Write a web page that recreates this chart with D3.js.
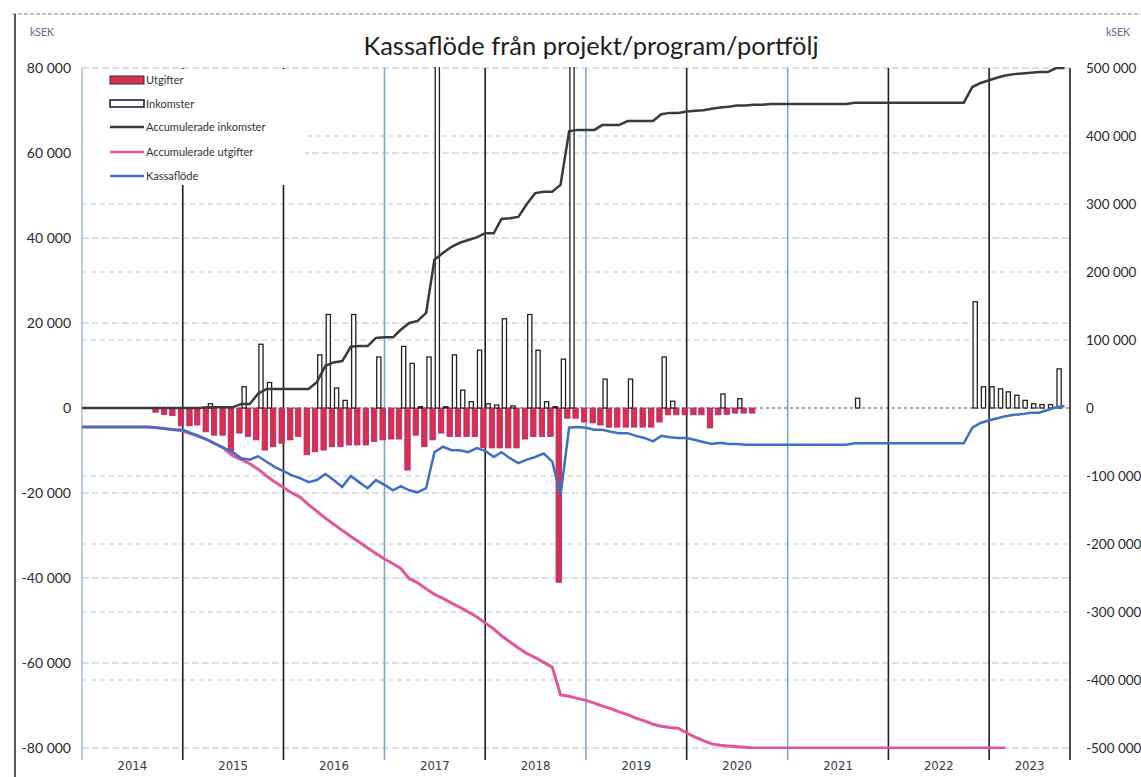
<!DOCTYPE html>
<html><head><meta charset="utf-8">
<script src="https://cdn.jsdelivr.net/npm/d3@7"></script>
<style>body{margin:0;background:#fff}svg{display:block}</style>
</head><body><svg id="c" width="1141" height="777"></svg>
<script>
// ---------- DATA (kSEK) ----------
const startYear = 2014;
const years = ["2014","2015","2016","2017","2018","2019","2020","2021","2022","2023"];
const utgifter = [
  0,0,0,0,0,0,0,0,0,-1000,-1500,-1800,
  -4200,-4200,-4000,-5600,-6400,-6400,-10300,-5900,-6700,-7500,-9900,-9100,
  -8300,-7500,-6700,-11000,-10300,-9900,-9100,-9100,-8700,-8700,-8700,-7900,
  -7500,-7300,-7300,-14600,-6400,-9100,-7500,-5900,-6700,-6700,-6700,-6700,
  -9300,-9400,-9400,-9400,-9400,-7300,-6700,-6700,-6700,-41000,-2400,-2400,
  -3300,-3500,-4000,-4500,-4500,-4500,-4500,-4500,-4500,-3300,-1600,-1600,
  -1600,-1600,-1600,-4700,-1600,-1500,-1200,-1200,-1200,0,0,0,
  0,0,0,0,0,0,0,0,0,0,0,0,
  0,0,0,0,0,0,0,0,0,0,0,0,
  0,0,0,0,0,0,0,0,0,0
];
const inkomster = [
  0,0,0,0,0,0,0,0,0,0,0,0,
  0,0,0,1000,0,0,0,5000,0,15000,6000,0,
  0,0,0,0,12500,22000,4700,1800,22000,0,0,12000,
  0,0,14500,10500,300,12000,85000,300,12500,4200,1500,13600,
  1000,700,21000,500,0,22000,13600,1500,300,11500,82000,0,
  0,0,6800,0,0,6800,0,0,0,12000,1600,0,
  0,0,0,0,3300,0,2200,0,0,0,0,0,
  0,0,0,0,0,0,0,0,2300,0,0,0,
  0,0,0,0,0,0,0,0,0,0,25000,5000,
  5000,4500,3800,3000,1800,1000,800,800,9200,0
];
const accInkomster = [
  0,0,0,0,0,0,0,0,0,0,0,0,
  0,0,0,1000,1000,1000,1000,6000,6000,21000,28000,28000,
  28000,28000,28000,28000,38000,62000,67000,69000,90000,91000,91000,103000,
  104000,104000,115000,125000,128000,140000,218000,228000,237000,243000,247000,251000,
  257000,257000,278000,279000,281000,300000,316000,318000,318000,328000,407000,409000,
  409000,409000,416000,416000,416000,422000,422000,422000,422000,432000,434000,434000,
  436000,437000,438000,440000,442000,443000,445000,445000,446000,446000,447000,447000,
  447000,447000,447000,447000,447000,447000,447000,447000,449000,449000,449000,449000,
  449000,449000,449000,449000,449000,449000,449000,449000,449000,449000,472000,478000,
  482000,486000,489000,491000,492000,493000,494000,494000,500000,500000
];
const accUtgifter = [
  -28000,-28000,-28000,-28000,-28000,-28000,-28000,-28000,-28000,-29000,-30000,-32000,
  -34000,-38000,-42000,-47000,-53000,-60000,-70000,-76000,-82000,-90000,-100000,-109000,
  -117000,-125000,-131000,-142000,-152000,-162000,-171000,-180000,-189000,-197000,-206000,-214000,
  -222000,-229000,-236000,-251000,-257000,-266000,-274000,-280000,-287000,-293000,-300000,-307000,
  -316000,-325000,-335000,-344000,-353000,-361000,-367000,-374000,-381000,-422000,-424000,-427000,
  -430000,-434000,-438000,-442000,-447000,-451000,-456000,-460000,-465000,-468000,-470000,-471000,
  -478000,-484000,-489000,-494000,-496000,-497000,-498000,-499000,-500000,-500000,-500000,-500000,
  -500000,-500000,-500000,-500000,-500000,-500000,-500000,-500000,-500000,-500000,-500000,-500000,
  -500000,-500000,-500000,-500000,-500000,-500000,-500000,-500000,-500000,-500000,-500000,-500000,
  -500000,-500000,-500000,null,null,null,null,null,null,null
];
const kassaflode = [
  -28000,-28000,-28000,-28000,-28000,-28000,-28000,-28000,-28000,-29000,-31000,-32000,
  -32000,-37000,-41000,-47000,-53000,-59000,-65000,-74000,-76000,-71000,-79000,-87000,
  -93000,-99000,-103000,-109000,-106000,-97000,-106000,-116000,-100000,-109000,-118000,-106000,
  -113000,-121000,-115000,-121000,-124000,-118000,-65000,-57000,-62000,-62000,-65000,-59000,
  -63000,-72000,-65000,-74000,-81000,-76000,-72000,-67000,-79000,-128000,-29000,-28000,
  -29000,-32000,-32000,-35000,-37000,-37000,-41000,-44000,-49000,-41000,-43000,-44000,
  -44000,-47000,-50000,-53000,-51000,-53000,-53000,-54000,-54000,-54000,-54000,-54000,
  -54000,-54000,-54000,-54000,-54000,-54000,-54000,-54000,-52000,-52000,-52000,-52000,
  -52000,-52000,-52000,-52000,-52000,-52000,-52000,-52000,-52000,-52000,-29000,-22000,
  -18000,-15000,-12000,-10000,-9000,-7000,-7000,-3000,1000,3000
];
const leftTicks = [80000,60000,40000,20000,0,-20000,-40000,-60000,-80000];
const rightTicks = [500000,400000,300000,200000,100000,0,-100000,-200000,-300000,-400000,-500000];
const legendLabels = ["Utgifter","Inkomster","Accumulerade inkomster","Accumulerade utgifter","Kassaflöde"];
const title = "Kassaflöde från projekt/program/portfölj";
const unitLabel = "kSEK";

// ---------- SETUP ----------
const svg = d3.select("#c");
const L = 82, R = 1070, T = 68, B = 748;
const months = utgifter.map((_, i) => d3.timeMonth.offset(new Date(startYear, 0, 1), i));
const x = d3.scaleTime().domain([new Date(2014,0,1), new Date(2023,9,21)]).range([L, R]);
const yL = d3.scaleLinear().domain([-80000, 80000]).range([B, T]);
const yR = d3.scaleLinear().domain([-500000, 500000]).range([B, T]);
const loc = d3.formatLocale({decimal:",", thousands:"\u00a0", grouping:[3], currency:["",""], minus:"-"});
const fmt = loc.format(",d");

const colUtg = "#d9304f", colUtgStroke = "#b2276f";
const colAccInk = "#3a3a3a", colAccUtg = "#e2559b", colKassa = "#3d6fc6";
const font = "Lato, 'Open Sans', sans-serif";

// frame
svg.append("line").attr("x1",12).attr("x2",1141).attr("y1",14).attr("y2",14)
  .attr("stroke","#888").attr("stroke-width",1).attr("stroke-dasharray","4,2");
svg.append("line").attr("x1",15).attr("x2",15).attr("y1",14).attr("y2",777)
  .attr("stroke","#222").attr("stroke-width",1.5);

svg.append("defs").append("clipPath").attr("id","plot")
  .append("rect").attr("x",L).attr("y",T-1).attr("width",R-L).attr("height",B-T+2);

// horizontal gridlines (left & right axes)
const grid = svg.append("g");
grid.selectAll(".gl").data(leftTicks).join("line")
  .attr("x1",L).attr("x2",R).attr("y1",d=>yL(d)).attr("y2",d=>yL(d))
  .attr("stroke", d=> d===0 ? "#555" : "#b3c0d2").attr("stroke-width",1)
  .attr("stroke-dasharray", d=> d===0 ? "3,3" : "7,3");
grid.selectAll(".gr").data(rightTicks.filter(d=>d!==0 && Math.abs(d)!==500000)).join("line")
  .attr("x1",L).attr("x2",R).attr("y1",d=>yR(d)).attr("y2",d=>yR(d))
  .attr("stroke","#bcc7d6").attr("stroke-width",1).attr("stroke-dasharray","5,4");

// vertical year lines
const yearStarts = years.slice(1).map(y => new Date(+y,0,1));
const vColors = ["#1f1f1f","#1f1f1f","#7fa3d6","#1f1f1f","#7fa3d6","#1f1f1f","#7fa3d6","#1f1f1f","#1f1f1f"];
grid.selectAll(".v").data(yearStarts).join("line")
  .attr("x1",d=>x(d)).attr("x2",d=>x(d)).attr("y1",T).attr("y2",B+12)
  .attr("stroke",(d,i)=>vColors[i]).attr("stroke-width",1.6);
grid.append("line").attr("x1",L).attr("x2",L).attr("y1",T).attr("y2",B+12)
  .attr("stroke","#8fa8cc").attr("stroke-width",1.2);
grid.append("line").attr("x1",R).attr("x2",R).attr("y1",T).attr("y2",B+12)
  .attr("stroke","#1f1f1f").attr("stroke-width",1.6);

// bars
const plot = svg.append("g").attr("clip-path","url(#plot)");
plot.selectAll(".u").data(utgifter.map((v,i)=>({v,d:months[i]})).filter(o=>o.v!==0)).join("rect")
  .attr("x",o=>x(o.d)-4.5).attr("width",5.4)
  .attr("y",o=>yL(0)).attr("height",o=>yL(o.v)-yL(0))
  .attr("fill",colUtg).attr("stroke",colUtgStroke).attr("stroke-width",0.8);
plot.selectAll(".i").data(inkomster.map((v,i)=>({v,d:months[i]})).filter(o=>o.v!==0)).join("rect")
  .attr("x",o=>x(o.d)+0.8).attr("width",4.2)
  .attr("y",o=>yL(o.v)).attr("height",o=>yL(0)-yL(o.v))
  .attr("fill","#fff").attr("stroke","#222").attr("stroke-width",1.3);

// lines
const mk = arr => d3.line().defined(d=>d!==null).x((d,i)=>x(months[i])).y(d=>yR(d))(arr);
plot.append("path").attr("d",mk(accUtgifter)).attr("fill","none").attr("stroke",colAccUtg).attr("stroke-width",3);
plot.append("path").attr("d",mk(kassaflode)).attr("fill","none").attr("stroke",colKassa).attr("stroke-width",2.5);
plot.append("path").attr("d",mk(accInkomster)).attr("fill","none").attr("stroke",colAccInk).attr("stroke-width",2.5);

// axes labels
const txt = svg.append("g").attr("font-family",font).attr("fill","#2a2a2a");
txt.selectAll(".lt").data(leftTicks).join("text")
  .attr("x",71).attr("y",d=>yL(d)+5).attr("text-anchor","end").attr("font-size",14).text(d=>fmt(d));
txt.selectAll(".rt").data(rightTicks).join("text")
  .attr("x",1086).attr("y",d=>yR(d)+5).attr("text-anchor","start").attr("font-size",13.5).text(d=>fmt(d));
txt.selectAll(".yr").data(years).join("text")
  .attr("x",(d,i)=>{const a=x(new Date(+d,0,1)), b=Math.min(x(new Date(+d+1,0,1)),R); return (Math.max(a,L)+b)/2;})
  .attr("y",770).attr("text-anchor","middle").attr("font-size",13)
  .attr("font-family","'Liberation Sans Narrow', 'DejaVu Sans Condensed', sans-serif")
  .attr("fill","#333a48").text(d=>d);
txt.append("text").attr("x",30).attr("y",36).attr("font-size",10.5).attr("fill","#5a6a88").text(unitLabel);
txt.append("text").attr("x",1106).attr("y",36).attr("font-size",10.5).attr("fill","#5a6a88").text(unitLabel);
txt.append("text").attr("x",591).attr("y",55).attr("text-anchor","middle").attr("font-size",25.5)
  .attr("fill","#1e1e1e").text(title);

// legend
const lg = svg.append("g").attr("font-family",font);
lg.append("rect").attr("x",L+1).attr("y",T+1).attr("width",222).attr("height",116).attr("fill","#fff");
const rowsY = [80,104,127,152,176];
const kinds = ["barU","barI","line","line","line"];
const lcols = [colUtg,"#fff",colAccInk,colAccUtg,colKassa];
legendLabels.forEach((lab,i)=>{
  const yy = rowsY[i];
  if (kinds[i]==="barU") lg.append("rect").attr("x",110).attr("y",yy-4).attr("width",34).attr("height",8)
      .attr("fill",colUtg).attr("stroke","#333").attr("stroke-width",1);
  else if (kinds[i]==="barI") lg.append("rect").attr("x",110).attr("y",yy-4).attr("width",34).attr("height",7)
      .attr("fill","#fff").attr("stroke","#223").attr("stroke-width",1.6);
  else lg.append("line").attr("x1",110).attr("x2",144).attr("y1",yy).attr("y2",yy)
      .attr("stroke",lcols[i]).attr("stroke-width",2.5);
  lg.append("text").attr("x",146).attr("y",yy+4).attr("font-size",11).attr("fill","#333").text(lab);
});
</script></body></html>
